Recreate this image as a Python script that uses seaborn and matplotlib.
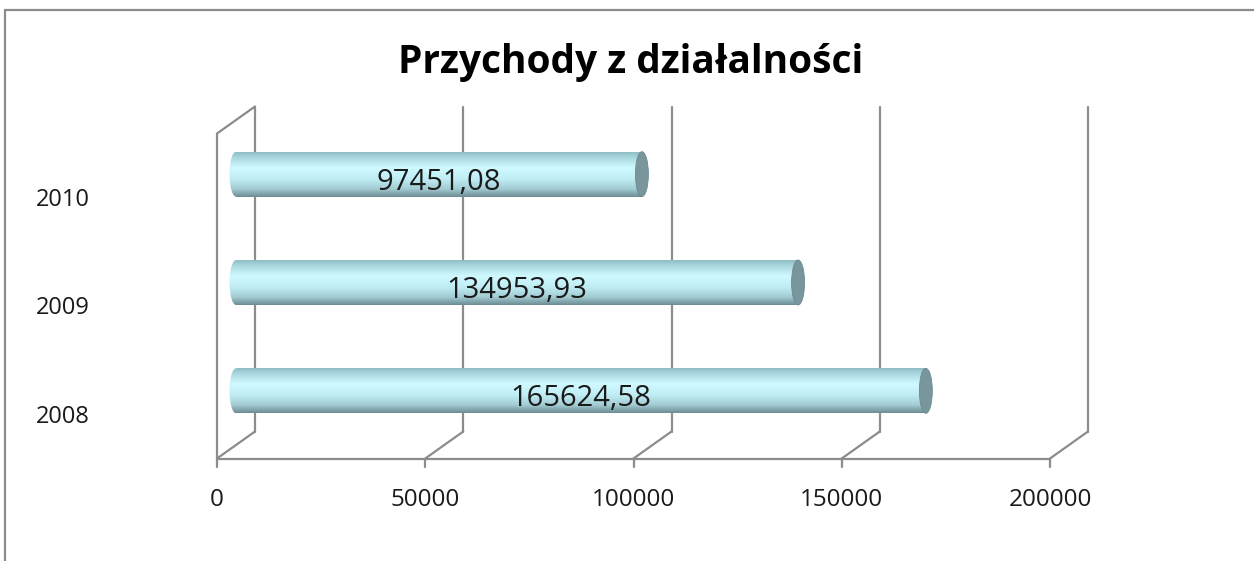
import numpy as np
import pandas as pd
import matplotlib
matplotlib.use("Agg")
import matplotlib.pyplot as plt
import seaborn as sns
from matplotlib.colors import LinearSegmentedColormap
from matplotlib.patches import Ellipse
from matplotlib.lines import Line2D

# data
years = ["2010", "2009", "2008"]
revenue = [97451.08, 134953.93, 165624.58]
value_labels = ["97451,08", "134953,93", "165624,58"]
x_ticks = [0, 50000, 100000, 150000, 200000]

title = "Przychody z działalności"

sns.set_theme(style="white")
plt.rcParams["font.family"] = ["Open Sans", "DejaVu Sans"]

W, H, DPI = 1254, 561, 100
fig = plt.figure(figsize=(W / DPI, H / DPI), dpi=DPI)

# axes = middle depth plane of the 3d box
left_px, right_px, top_px, bottom_px = 236, 1069, 120, 445
ax = fig.add_axes([left_px / W, 1 - bottom_px / H,
                   (right_px - left_px) / W, (bottom_px - top_px) / H])

df = pd.DataFrame({"year": years, "revenue": revenue})
sns.barplot(data=df, x="revenue", y="year", order=years, orient="h",
            width=0.415, color="#bfeef5", edgecolor="none", ax=ax)

ax.set_xlim(0, 200000)
ax.set_ylim(2.5, -0.5)
ax.set_axis_off()

# depth offsets (pixels) for back / front planes
DX, DY = 19, 13.5
grid_col = "#8c8c8c"
lw = 1.6
txt_col = "#1a1a1a"

fig.canvas.draw()
px_per_x = ax.bbox.width / 200000
px_per_y = ax.bbox.height / 3.0
dxd = DX / px_per_x
dyd = DY / px_per_y

back = dict(color=grid_col, lw=lw, clip_on=False, zorder=1)
# back wall verticals + floor slants + front ticks
for t in x_ticks:
    ax.add_line(Line2D([t + dxd, t + dxd], [2.5 - dyd, -0.5 - dyd], **back))
    ax.add_line(Line2D([t - dxd, t + dxd], [2.5 + dyd, 2.5 - dyd], **back))
    ax.add_line(Line2D([t - dxd, t - dxd], [2.5 + dyd, 2.5 + dyd + 8 / px_per_y], **back))
    ax.text(t - dxd, 2.5 + dyd + 42 / px_per_y, f"{t}", ha="center", va="center",
            fontsize=17.5, color=txt_col)
# front baseline
ax.add_line(Line2D([0 - dxd, 200000 - dxd], [2.5 + dyd, 2.5 + dyd], **back))
# left side wall
ax.add_line(Line2D([-dxd, -dxd], [2.5 + dyd, -0.5 + dyd], **back))
ax.add_line(Line2D([-dxd, dxd], [-0.5 + dyd, -0.5 - dyd], **back))

# cylinder shading
cyl = LinearSegmentedColormap.from_list(
    "cyl", [(0.0, "#8fbcc5"), (0.12, "#a9d7df"), (0.35, "#cff9ff"),
            (0.6, "#c0edf4"), (0.82, "#a3ccd3"), (1.0, "#6c8b92")])
grad = np.linspace(0, 1, 256).reshape(-1, 1)
cap_w = 13 / px_per_x

for p, lab in zip(ax.patches[:len(years)], value_labels):
    x0, y0 = p.get_x(), p.get_y()
    w, h = p.get_width(), p.get_height()
    p.set_facecolor("none")
    # left rounded end
    le = Ellipse((x0, y0 + h / 2), cap_w, h, facecolor="none", edgecolor="none")
    ax.add_patch(le)
    for clip in (p, le):
        im = ax.imshow(grad, extent=[x0 - cap_w, x0 + w, y0 + h, y0], aspect="auto",
                       cmap=cyl, zorder=2, interpolation="bilinear")
        im.set_clip_box(fig.bbox)
        im.set_clip_path(clip)
    ax.add_patch(Ellipse((x0 + w, y0 + h / 2), cap_w, h, facecolor="#78969c",
                         edgecolor="#6d8a90", lw=0.6, zorder=3))
    ax.text(x0 + w / 2, y0 + h / 2 + 8 / px_per_y, lab, ha="center", va="center",
            fontsize=21, color=txt_col, zorder=4)

ax.set_xlim(0, 200000)
ax.set_ylim(2.5, -0.5)

# category labels
for i, yr in enumerate(years):
    ax.text(-(left_px - 63) / px_per_x, i + 26 / px_per_y, yr, ha="center", va="center",
            fontsize=17, color=txt_col)

fig.text(631 / W, 1 - 62 / H, title, ha="center", va="center",
         fontsize=28, fontweight="bold", color="black")

# chart frame
fig.add_artist(Line2D([5 / W, 5 / W], [0, 1 - 10 / H], transform=fig.transFigure,
                      color="#8c8c8c", lw=1.6))
fig.add_artist(Line2D([5 / W, 1], [1 - 10 / H, 1 - 10 / H], transform=fig.transFigure,
                      color="#8c8c8c", lw=1.6))

fig.savefig("out.png", dpi=DPI, facecolor="white")
